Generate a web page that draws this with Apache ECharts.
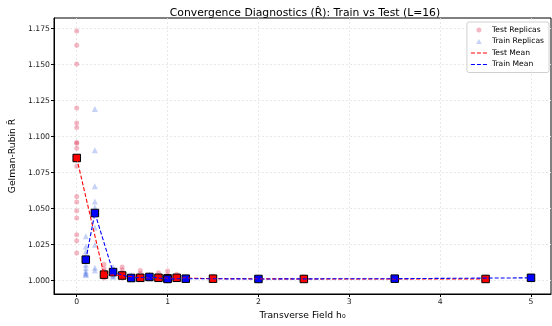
<!DOCTYPE html>
<html>
<head>
<meta charset="utf-8">
<script src="https://cdn.jsdelivr.net/npm/echarts@6/dist/echarts.min.js"></script>
<style>
  html, body { margin: 0; padding: 0; background: #fff; overflow: hidden; }
  #chart { width: 552px; height: 326px; }
</style>
</head>
<body>
<div id="chart"></div>
<script>
// Transverse-field values for each set
const testH  = [0, 0.3, 0.5, 0.7, 0.9, 1.0, 1.1, 1.5, 2.5, 4.5];
const trainH = [0.1, 0.2, 0.4, 0.6, 0.8, 1.0, 1.2, 2.0, 3.5, 5.0];

// Mean R-hat per field value
const testMean  = [1.0852, 1.0042, 1.0036, 1.0020, 1.0020, 1.0016, 1.0020, 1.0014, 1.0012, 1.0012];
const trainMean = [1.0146, 1.0470, 1.0060, 1.0019, 1.0026, 1.0012, 1.0014, 1.0012, 1.0014, 1.0020];

// Per-replica R-hat, one list per field value (same order as testH / trainH)
const testReplicas = [
  [1.1734, 1.1634, 1.1505, 1.1199, 1.1095, 1.1063, 1.0960, 1.0955, 1.0919, 1.0794,
   1.0585, 1.0547, 1.0486, 1.0435, 1.0319, 1.0278, 1.0192],
  [1.0115, 1.0085, 1.0065, 1.0050, 1.0035, 1.0025, 1.0018],
  [1.0095, 1.0075, 1.0055, 1.0040, 1.0028, 1.0018],
  [1.0070, 1.0050, 1.0030, 1.0020, 1.0012],
  [1.0055, 1.0035, 1.0022, 1.0012],
  [1.0068, 1.0040, 1.0022, 1.0010],
  [1.0045, 1.0030, 1.0018, 1.0010],
  [1.0030, 1.0018, 1.0010],
  [1.0025, 1.0015, 1.0008],
  [1.0025, 1.0015, 1.0008]
];
const trainReplicas = [
  [1.0308, 1.0238, 1.0203, 1.0169, 1.0110, 1.0088, 1.0065, 1.0053, 1.0045, 1.0040],
  [1.1192, 1.0905, 1.0655, 1.0550, 1.0510, 1.0460, 1.0370, 1.0250, 1.0090, 1.0070],
  [1.0095, 1.0080, 1.0068, 1.0055, 1.0045, 1.0035, 1.0028],
  [1.0040, 1.0030, 1.0020, 1.0012, 1.0008],
  [1.0045, 1.0032, 1.0022, 1.0015],
  [1.0030, 1.0018, 1.0010],
  [1.0025, 1.0015, 1.0010],
  [1.0020, 1.0012, 1.0008],
  [1.0022, 1.0014, 1.0008],
  [1.0030, 1.0020, 1.0012]
];

// Tick positions
const xTicks = [0, 1, 2, 3, 4, 5];
const yTicks = [1.000, 1.025, 1.050, 1.075, 1.100, 1.125, 1.150, 1.175];

const flatten = (hs, reps) => hs.flatMap((h, i) => reps[i].map(v => [h, v]));
const pairs = (hs, vs) => hs.map((h, i) => [h, vs[i]]);

// Legend glyphs in a 16x8 box; the tiny corner specks fix the box size so the
// visible mark keeps its own small size instead of being stretched.
const BOX = 'M0,0h0.01v0.01h-0.01z M16,8h-0.01v-0.01h0.01z ';
const ICON_CIRCLE = 'path://' + BOX + 'M5.5,4a2.5,2.5 0 1,0 5,0a2.5,2.5 0 1,0 -5,0z';
const ICON_TRIANGLE = 'path://' + BOX + 'M8,1.4L10.8,6.4L5.2,6.4z';
const ICON_DASH = 'path://' + BOX + 'M0,3.45h4v1.1h-4z M6,3.45h4v1.1h-4z M12,3.45h4v1.1h-4z';

const FONT = 'DejaVu Sans';
const chart = echarts.init(document.getElementById('chart'), null, { renderer: 'canvas' });

chart.setOption({
  animation: false,
  backgroundColor: '#ffffff',
  textStyle: { fontFamily: FONT },
  title: {
    text: 'Convergence Diagnostics (R\u0302): Train vs Test (L=16)',
    left: 300, top: 3, textAlign: 'center',
    textStyle: { fontFamily: FONT, fontSize: 10.8, fontWeight: 'normal', color: '#000' }
  },
  grid: {
    left: 50, top: 18, right: 1, bottom: 32,
    show: true, borderColor: '#000', borderWidth: 1, backgroundColor: 'transparent'
  },
  legend: {
    orient: 'vertical', right: 3, top: 22,
    backgroundColor: 'rgba(255,255,255,0.85)',
    borderColor: '#d0d0d0', borderWidth: 1, borderRadius: 2,
    padding: [4, 5, 4, 4], itemGap: 3.5, itemWidth: 16, itemHeight: 8,
    itemStyle: { borderWidth: 0 },
    textStyle: { fontFamily: FONT, fontSize: 7.6, color: '#000' },
    data: [
      { name: 'Test Replicas', icon: ICON_CIRCLE },
      { name: 'Train Replicas', icon: ICON_TRIANGLE },
      { name: 'Test Mean', icon: ICON_DASH },
      { name: 'Train Mean', icon: ICON_DASH }
    ]
  },
  xAxis: {
    type: 'value', min: -0.25, max: 5.22,
    name: 'Transverse Field h\u2080', nameLocation: 'middle', nameGap: 15,
    nameTextStyle: { fontFamily: FONT, fontSize: 9.2, color: '#000' },
    axisLine: { show: true, onZero: false, lineStyle: { color: '#000', width: 1 } },
    axisTick: { show: true, length: 3, customValues: xTicks, lineStyle: { color: '#000' } },
    axisLabel: { customValues: xTicks, fontFamily: FONT, fontSize: 7.7, color: '#222', margin: 4 },
    splitLine: { show: true, lineStyle: { color: '#e2e2e2', type: [2, 2], width: 0.8 } }
  },
  yAxis: {
    type: 'value', min: 0.99076, max: 1.1824,
    name: 'Gelman-Rubin R\u0302', nameLocation: 'middle', nameGap: 37,
    nameTextStyle: { fontFamily: FONT, fontSize: 9.2, color: '#000' },
    axisLine: { show: true, onZero: false, lineStyle: { color: '#000', width: 1 } },
    axisTick: { show: true, length: 3, customValues: yTicks, lineStyle: { color: '#000' } },
    axisLabel: {
      customValues: yTicks, fontFamily: FONT, fontSize: 7.7, color: '#222', margin: 4,
      formatter: v => v.toFixed(3)
    },
    splitLine: { show: true, lineStyle: { color: '#e2e2e2', type: [2, 2], width: 0.8 } }
  },
  series: [
    {
      name: 'Test Replicas', type: 'scatter', symbol: 'circle', symbolSize: 5,
      data: flatten(testH, testReplicas),
      itemStyle: { color: 'rgba(220,20,60,0.3)', opacity: 1 }
    },
    {
      name: 'Train Replicas', type: 'scatter', symbol: 'triangle', symbolSize: 6,
      data: flatten(trainH, trainReplicas),
      itemStyle: { color: 'rgba(65,105,225,0.3)', opacity: 1 }
    },
    {
      name: 'Test Mean', type: 'line', symbol: 'none',
      data: pairs(testH, testMean),
      itemStyle: { color: '#ff0000' },
      lineStyle: { color: '#ff0000', width: 1.1, type: [4, 2] }
    },
    {
      name: 'Test Mean markers', type: 'scatter', symbol: 'rect', symbolSize: 7.5,
      data: pairs(testH, testMean),
      itemStyle: { color: '#ff0000', borderColor: '#000', borderWidth: 1, opacity: 1 }
    },
    {
      name: 'Train Mean', type: 'line', symbol: 'none',
      data: pairs(trainH, trainMean),
      itemStyle: { color: '#0000ff' },
      lineStyle: { color: '#0000ff', width: 1.1, type: [4, 2] }
    },
    {
      name: 'Train Mean markers', type: 'scatter', symbol: 'rect', symbolSize: 7.5,
      data: pairs(trainH, trainMean),
      itemStyle: { color: '#0000ff', borderColor: '#000', borderWidth: 1, opacity: 1 }
    }
  ]
});
</script>
</body>
</html>
